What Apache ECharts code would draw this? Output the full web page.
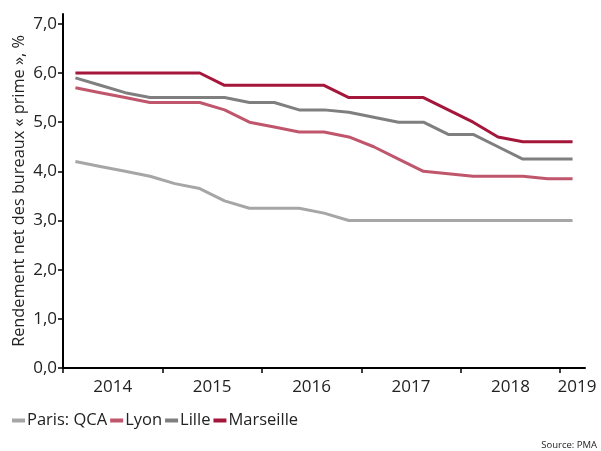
<!DOCTYPE html>
<html><head><meta charset="utf-8">
<script src="https://cdn.jsdelivr.net/npm/echarts@6/dist/echarts.min.js"></script>
<style>html,body{margin:0;padding:0;background:#fff}#c{width:601px;height:451px}</style>
</head><body><div id="c"></div>
<script>
// Quarterly data, 2014 Q1 .. 2019 Q1
const quarters = ['2014T1','2014T2','2014T3','2014T4','2015T1','2015T2','2015T3','2015T4','2016T1','2016T2','2016T3','2016T4','2017T1','2017T2','2017T3','2017T4','2018T1','2018T2','2018T3','2018T4','2019T1'];
const parisQCA = [4.2,4.1,4.0,3.9,3.75,3.65,3.4,3.25,3.25,3.25,3.15,3.0,3.0,3.0,3.0,3.0,3.0,3.0,3.0,3.0,3.0];
const lyon = [5.7,5.6,5.5,5.4,5.4,5.4,5.25,5.0,4.9,4.8,4.8,4.7,4.5,4.25,4.0,3.95,3.9,3.9,3.9,3.85,3.85];
const lille = [5.9,5.75,5.6,5.5,5.5,5.5,5.5,5.4,5.4,5.25,5.25,5.2,5.1,5.0,5.0,4.75,4.75,4.5,4.25,4.25,4.25];
const marseille = [6,6,6,6,6,6,5.75,5.75,5.75,5.75,5.75,5.5,5.5,5.5,5.5,5.25,5.0,4.7,4.6,4.6,4.6];
const seriesNames = ['Paris: QCA','Lyon','Lille','Marseille'];
const yearTicks = [2014,2015,2016,2017,2018,2019];
const yearLabelPos = [2014.5,2015.5,2016.5,2017.5,2018.5,2019.17];
const yTicks = [0,1,2,3,4,5,6,7];

const colors = ['#a6a6a6','#c0566b','#7f7f7f','#a5173a'];
const FONT = 'Open Sans';
function qx(q){ const y = parseInt(q.slice(0,4)); const n = parseInt(q.slice(5)); return y + (n-0.5)/4; }
function mk(vals){ return vals.map((v,i)=>[qx(quarters[i]), v]); }
const allSeries = [parisQCA, lyon, lille, marseille];

const chart = echarts.init(document.getElementById('c'), null, {renderer:'canvas'});
chart.setOption({
  animation:false,
  textStyle:{fontFamily:FONT},
  grid:{left:63,right:16,top:14,bottom:83,containLabel:false,outerBoundsMode:'none'},
  xAxis:{
    type:'value', min:2014, max:2019.25,
    axisLine:{show:true,lineStyle:{color:'#000',width:2}},
    axisTick:{show:true,customValues:yearTicks,length:5,lineStyle:{color:'#000',width:1.5}},
    axisLabel:{customValues:yearLabelPos,formatter:v=>String(Math.floor(v)),fontSize:17,color:'#222',margin:11,fontFamily:FONT},
    splitLine:{show:false}
  },
  yAxis:{
    type:'value', min:0, max:7.2,
    name:'Rendement net des bureaux « prime », %',
    nameLocation:'middle', nameGap:36, nameRotate:90, nameMoveOverlap:false,
    nameTextStyle:{fontSize:16.3,color:'#222',fontFamily:FONT},
    axisLine:{show:true,lineStyle:{color:'#000',width:2}},
    axisTick:{show:true,customValues:yTicks,length:5,lineStyle:{color:'#000',width:1.5}},
    axisLabel:{customValues:yTicks,formatter:v=>v.toFixed(1).replace('.',','),fontSize:17,color:'#222',margin:6,fontFamily:FONT},
    splitLine:{show:false}
  },
  legend:{
    left:7, top:407, itemGap:3, itemWidth:13, itemHeight:4, icon:'rect',
    textStyle:{fontSize:16.5,color:'#222',fontFamily:FONT,padding:[0,0,0,-3]},
    data:seriesNames
  },
  graphic:[{type:'text',right:4,top:440,style:{text:'Source: PMA',fontSize:9.5,fill:'#222',fontFamily:FONT}}],
  series: allSeries.map((vals,i)=>({
    name:seriesNames[i], type:'line', data:mk(vals), showSymbol:false, symbol:'none',
    lineStyle:{color:colors[i],width:3}, itemStyle:{color:colors[i]}, z:2+i
  }))
});
</script></body></html>
